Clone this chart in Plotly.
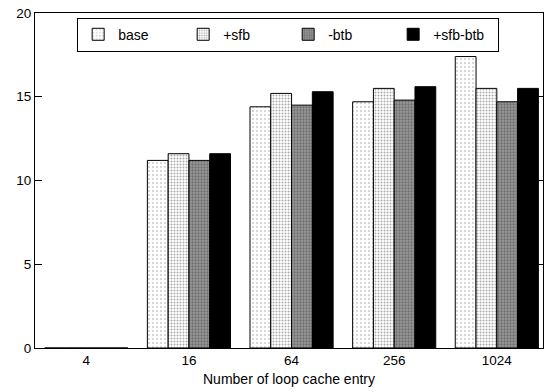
import plotly.graph_objects as go

categories = ["4", "16", "64", "256", "1024"]
series_names = ["base", "+sfb", "-btb", "+sfb-btb"]
base = [0, 11.2, 14.4, 14.7, 17.4]
sfb = [0, 11.6, 15.2, 15.5, 15.5]
btb = [0, 11.2, 14.5, 14.8, 14.7]
sfb_btb = [0, 11.6, 15.3, 15.6, 15.5]
y_ticks = [0, 5, 10, 15, 20]

styles = [
    dict(color="white", pattern=dict(shape=".", fgcolor="#333333", bgcolor="white", size=4, solidity=0.1)),
    dict(color="white", pattern=dict(shape=".", fgcolor="#555555", bgcolor="white", size=3, solidity=0.35)),
    dict(color="#888888", pattern=dict(shape=".", fgcolor="#444444", bgcolor="#999999", size=3, solidity=0.45)),
    dict(color="black"),
]

fig = go.Figure()
for name, vals, st in zip(series_names, [base, sfb, btb, sfb_btb], styles):
    marker = dict(color=st["color"], line=dict(color="black", width=1))
    if "pattern" in st:
        marker["pattern"] = st["pattern"]
    fig.add_trace(go.Bar(x=categories, y=vals, name=name, marker=marker))

fam = "Liberation Sans, Arial, sans-serif"
tickfont = dict(family=fam, size=13.5, color="black")
fig.update_layout(
    width=544, height=392,
    margin=dict(l=35, r=1, t=13, b=44),
    paper_bgcolor="white", plot_bgcolor="white",
    barmode="group", bargap=0.19, bargroupgap=0,
    font=tickfont,
    showlegend=True,
    legend=dict(
        orientation="h", x=0.083, y=0.986, xanchor="left", yanchor="top",
        bordercolor="black", borderwidth=1, bgcolor="white",
        entrywidth=60, entrywidthmode="pixels",
        font=dict(family=fam, size=14, color="black"),
        traceorder="normal",
    ),
    xaxis=dict(
        type="category", range=[-0.5, 4.45],
        showline=True, linecolor="black", linewidth=1, mirror=True,
        ticks="", showgrid=False, zeroline=False,
        title=dict(text="Number of loop cache entry", standoff=6,
                   font=dict(family=fam, size=14, color="black")),
        tickfont=tickfont,
    ),
    yaxis=dict(
        range=[0, 20], tickvals=y_ticks,
        showline=True, linecolor="black", linewidth=1, mirror="ticks",
        ticks="inside", ticklen=7, tickcolor="black",
        showgrid=False, zeroline=False, tickfont=tickfont,
    ),
)

fig.write_html("out.html")
